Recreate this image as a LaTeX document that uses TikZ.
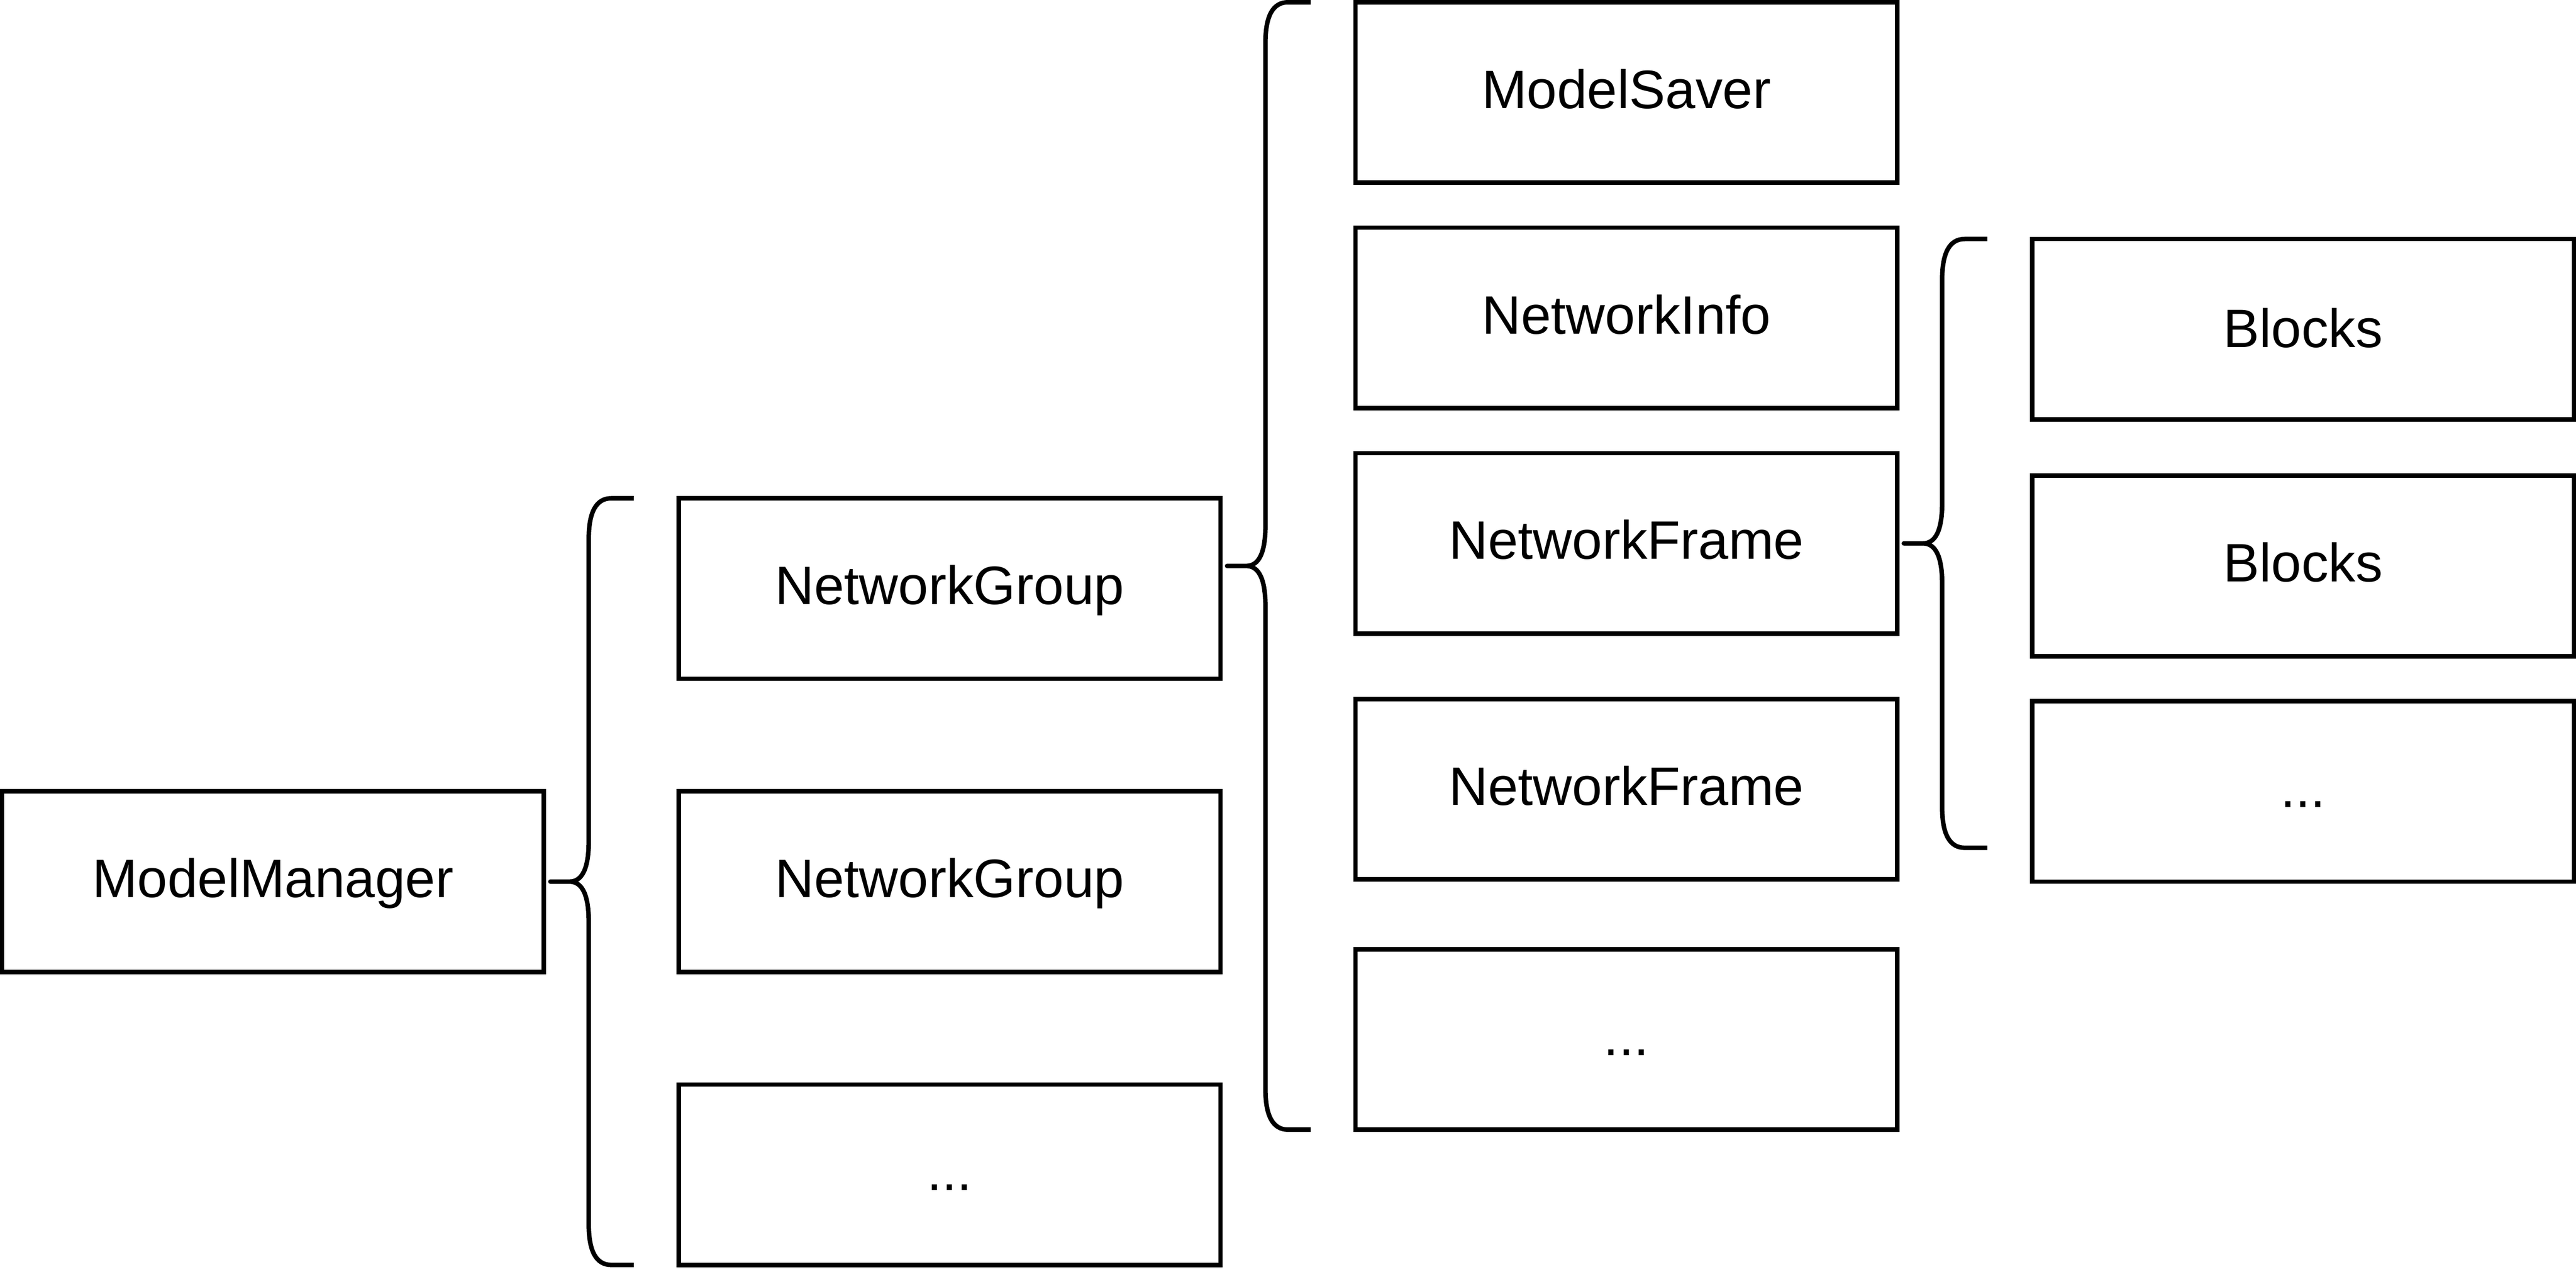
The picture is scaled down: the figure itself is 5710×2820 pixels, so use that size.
\documentclass[tikz,border=0pt]{standalone}
\usepackage{fontspec}
\setmainfont{Liberation Sans}
\newcommand\curlybr[6]{% tipx, xm, endx, top, tipy, bottom
  \draw[brc] (#3,#4) -- ({#2+50},#4)
    .. controls ({#2+16.67},#4) and (#2,{#4+30}) .. (#2,{#4+90})
    -- (#2,{#5-90})
    .. controls (#2,{#5-30}) and ({#2-14.17},#5) .. ({#2-42.5},#5)
    -- (#1,#5) -- ({#2-42.5},#5)
    .. controls ({#2-14.17},#5) and (#2,{#5+30}) .. (#2,{#5+90})
    -- (#2,{#6-90})
    .. controls (#2,{#6-30}) and ({#2+16.67},#6) .. ({#2+50},#6)
    -- (#3,#6);}
\begin{document}
\begin{tikzpicture}[x=0.01cm,y=-0.01cm,
  box/.style={draw, line width=0.1cm, minimum width=12cm, minimum height=4cm,
    inner sep=0pt, text height=0.7cm, text depth=0cm,
    font=\fontsize{34.14pt}{41pt}\selectfont},
  brc/.style={line width=0.1cm, line join=round}]
\useasboundingbox (0,0) rectangle (5710,2820);
% column 1
\node[box] (mm) at (605,1955) {ModelManager};
% column 2
\node[box] (ng1) at (2105,1305) {NetworkGroup};
\node[box] (ng2) at (2105,1955) {NetworkGroup};
\node[box] (ng3) at (2105,2605) {...};
% column 3
\node[box] (ms) at (3605,205) {ModelSaver};
\node[box] (ni) at (3605,705) {NetworkInfo};
\node[box] (nf1) at (3605,1205) {NetworkFrame};
\node[box] (nf2) at (3605,1750) {NetworkFrame};
\node[box] (nd) at (3605,2305) {...};
% column 4
\node[box, text height=0.8cm] (b1) at (5105,730) {Blocks};
\node[box] (b2) at (5105,1255) {Blocks};
\node[box] (b3) at (5105,1755) {...};
% braces
\curlybr{1220}{1305}{1405}{1105}{1955}{2805}
\curlybr{2720}{2805}{2905}{5}{1255}{2505}
\curlybr{4220}{4305}{4405}{530}{1205}{1880}
\end{tikzpicture}
\end{document}
